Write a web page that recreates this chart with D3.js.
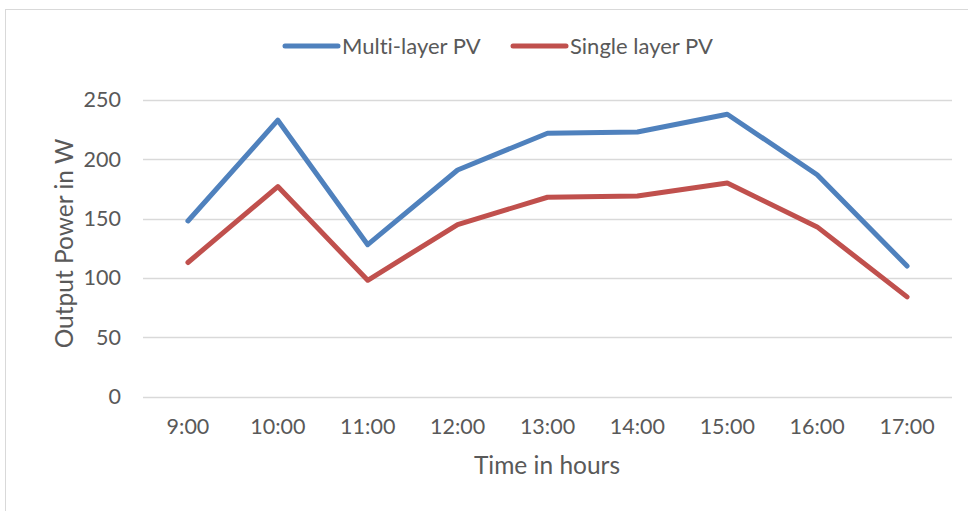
<!DOCTYPE html>
<html><head><meta charset="utf-8">
<script src="https://cdn.jsdelivr.net/npm/d3@7"></script>
<style>html,body{margin:0;padding:0;background:#fff;} svg{display:block;} text{font-variant-ligatures:none;font-feature-settings:"liga" 0;}</style>
</head><body>
<script>
const categories = ["9:00","10:00","11:00","12:00","13:00","14:00","15:00","16:00","17:00"];
const multiLayer = [148, 233, 128, 191, 222, 223, 238, 187, 110];
const singleLayer = [113, 177, 98, 145, 168, 169, 180, 143, 84];
const yTicks = [0, 50, 100, 150, 200, 250];
const seriesNames = ["Multi-layer PV", "Single layer PV"];
const seriesColors = ["#4F81BD", "#C0504D"];

(function () {
const W = 968, H = 511;
const font = "Lato, 'Open Sans', sans-serif";
const textColor = "#595959";
const svg = d3.select("body").append("svg").attr("width", W).attr("height", H);

svg.append("rect").attr("x", 5.5).attr("y", 9.5).attr("width", W + 10).attr("height", H + 10)
  .attr("fill", "#fff").attr("stroke", "#D9D9D9").attr("stroke-width", 1);

const mLeft = 143, mRight = 952, mTop = 100, mBottom = 396.5;
const x = d3.scaleBand().domain(categories).range([mLeft, mRight]);
const y = d3.scaleLinear().domain([0, 250]).range([mBottom, mTop]);

// gridlines
svg.append("g").selectAll("line").data(yTicks).join("line")
  .attr("x1", mLeft).attr("x2", mRight)
  .attr("y1", d => Math.round(y(d)) + 0.5).attr("y2", d => Math.round(y(d)) + 0.5)
  .attr("stroke", "#D9D9D9").attr("stroke-width", 1.3);

// y axis labels
const yAxis = svg.append("g").attr("transform", `translate(${mLeft},0)`)
  .call(d3.axisLeft(y).tickValues(yTicks).tickSize(0).tickPadding(22));
yAxis.select(".domain").remove();
yAxis.selectAll("text").attr("font-family", font).attr("font-size", 21.5).attr("fill", textColor);

// x axis labels
const xAxis = svg.append("g").attr("transform", `translate(0,${mBottom})`)
  .call(d3.axisBottom(x).tickSize(0).tickPadding(22));
xAxis.select(".domain").remove();
xAxis.selectAll("text").attr("font-family", font).attr("font-size", 21.5).attr("fill", textColor);

// axis titles
svg.append("text").attr("x", 547).attr("y", 474).attr("text-anchor", "middle")
  .attr("font-family", font).attr("font-size", 24.5).attr("fill", textColor).text("Time in hours");
svg.append("text").attr("transform", "translate(73,243.5) rotate(-90)").attr("text-anchor", "middle")
  .attr("font-family", font).attr("font-size", 24.5).attr("fill", textColor).text("Output Power in W");

// lines
const line = d3.line().x((d, i) => x(categories[i]) + x.bandwidth() / 2).y(d => y(d));
[multiLayer, singleLayer].forEach((s, i) => {
  svg.append("path").datum(s).attr("d", line).attr("fill", "none")
    .attr("stroke", seriesColors[i]).attr("stroke-width", 5)
    .attr("stroke-linejoin", "round").attr("stroke-linecap", "round");
});

// legend
const legendX = [285, 513];
seriesNames.forEach((n, i) => {
  const g = svg.append("g").attr("transform", `translate(${legendX[i]},46)`);
  g.append("line").attr("x1", 0).attr("x2", 53).attr("y1", 0).attr("y2", 0)
    .attr("stroke", seriesColors[i]).attr("stroke-width", 5).attr("stroke-linecap", "round");
  g.append("text").attr("x", 57).attr("y", 8).attr("font-family", font).attr("font-size", 22)
    .attr("fill", textColor).text(n);
});
})();
</script>
</body></html>
